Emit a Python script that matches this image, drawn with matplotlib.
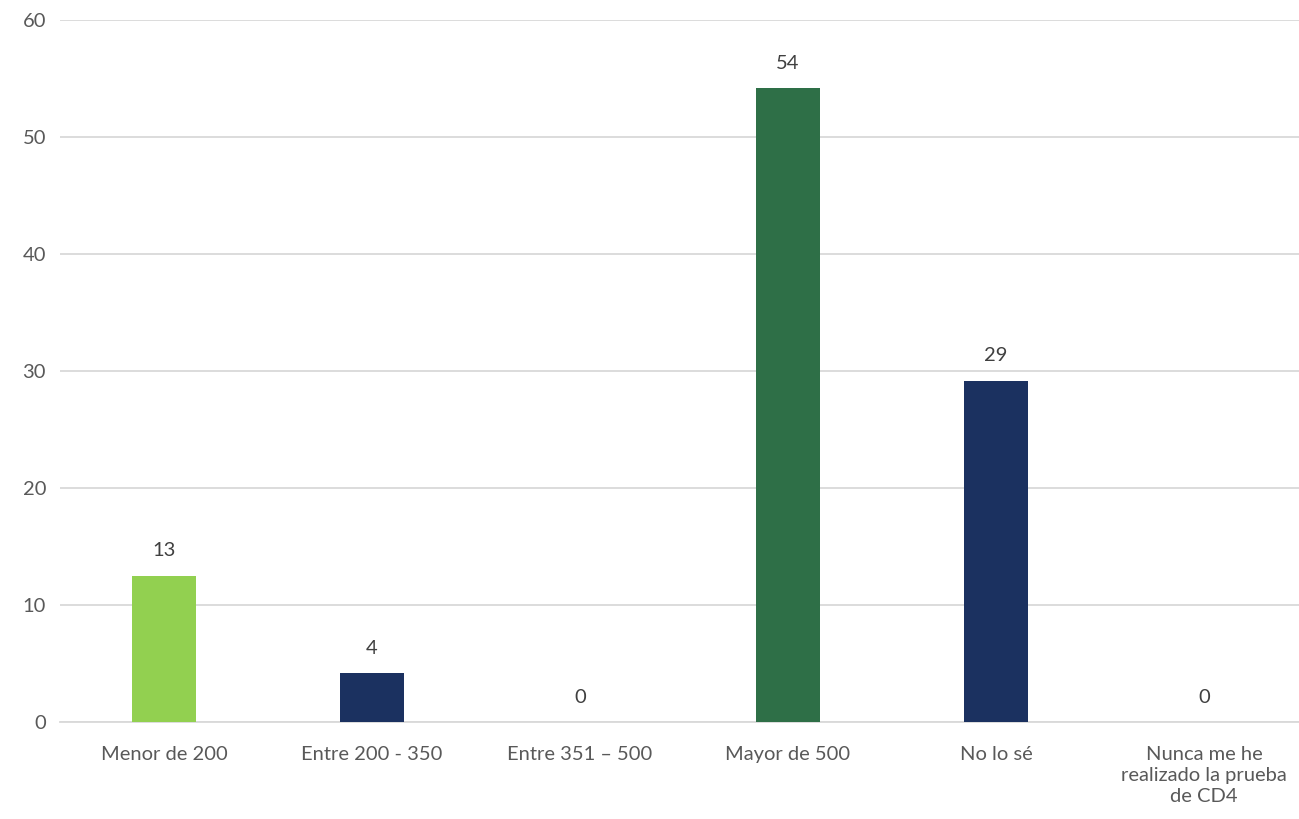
import matplotlib.pyplot as plt

categories = ["Menor de 200", "Entre 200 - 350", "Entre 351 \u2013 500", "Mayor de 500",
              "No lo sé", "Nunca me he\nrealizado la prueba\nde CD4"]
values = [12.5, 4.17, 0, 54.17, 29.17, 0]
colors = ["#92D050", "#1B3160", "#1B3160", "#2E6F47", "#1B3160", "#1B3160"]

plt.rcParams['font.family'] = ['Lato', 'DejaVu Sans']

fig = plt.figure(figsize=(12.99, 8.19), dpi=100)
W, H = 1299, 819
ax = fig.add_axes([60 / W, (H - 722) / H, (1308 - 60) / W, (722 - 20) / H])

x = range(len(categories))
ax.bar(x, values, width=0.31, color=colors, zorder=3)

for xi, v in zip(x, values):
    ax.text(xi, v + 1.4, str(int(v + 0.5)), ha='center', va='bottom', fontsize=14.5, color='#404040')

ax.set_ylim(0, 60)
ax.set_xlim(-0.5, len(categories) - 0.5)
ax.set_yticks(range(0, 61, 10))
ax.yaxis.grid(True, color='#D9D9D9', linewidth=1.3, zorder=0)
ax.set_xticks(list(x))
ax.set_xticklabels(categories, fontsize=14.5, color='#595959', linespacing=1.3)
ax.tick_params(axis='y', labelsize=14.5, labelcolor='#595959', length=0, pad=10)
ax.tick_params(axis='x', length=0, pad=17)
for s in ['top', 'right', 'left']:
    ax.spines[s].set_visible(False)
ax.spines['bottom'].set_color('#D9D9D9')
ax.spines['bottom'].set_linewidth(1.3)

fig.savefig('out.png', dpi=100)
